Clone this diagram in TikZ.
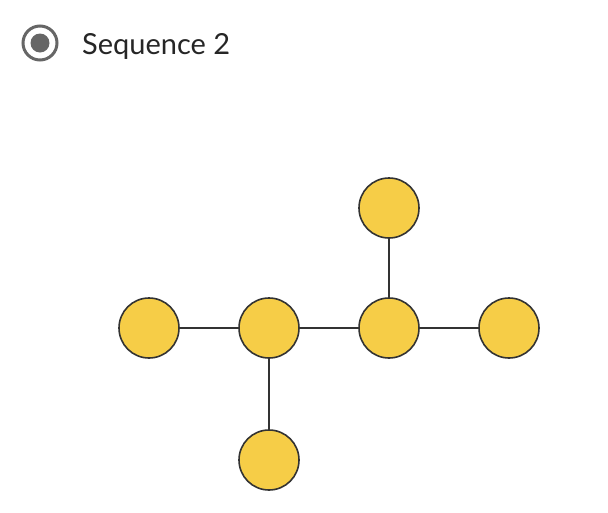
\documentclass[tikz,border=0pt]{standalone}
\usepackage{fontspec}
\setmainfont{Lato}
\usetikzlibrary{positioning}
\definecolor{atomfill}{HTML}{F6CD47}
\definecolor{atomline}{HTML}{333333}
\definecolor{radiogray}{HTML}{666666}
\tikzset{
  atom/.style={circle,draw=atomline,line width=1.6pt,fill=atomfill,minimum size=60pt,inner sep=0pt,outer sep=0pt},
  bond/.style={draw=atomline,line width=1.6pt},
  ring/.style={circle,draw=radiogray,line width=3pt,minimum size=34pt,inner sep=0pt},
  dot/.style={circle,fill=radiogray,minimum size=19pt,inner sep=0pt},
  lbl/.style={font=\fontsize{29}{34}\selectfont,text=black!85,inner sep=0pt,anchor=base west}
}

\begin{document}
\begin{tikzpicture}[x=1pt,y=-1pt,node distance=60pt]
\useasboundingbox (0,0) rectangle (608,512);
% radio button and title
\node[ring] (radio) at (40,43) {};
\node[dot] (radiodot) at (radio.center) {};
\node[lbl] (title) at (82,54) {Sequence 2};
% tree of atoms
\node[atom] (a1) at (149,328) {};
\node[atom,right=of a1] (a2) {};
\node[atom,right=of a2] (a3) {};
\node[atom,right=of a3] (a4) {};
\node[atom,above=of a3] (a5) {};
\node[atom,below=72pt of a2] (a6) {};
\draw[bond] (a1) -- (a2); \draw[bond] (a2) -- (a3);
\draw[bond] (a3) -- (a4); \draw[bond] (a3) -- (a5);
\draw[bond] (a2) -- (a6);
\end{tikzpicture}
\end{document}
